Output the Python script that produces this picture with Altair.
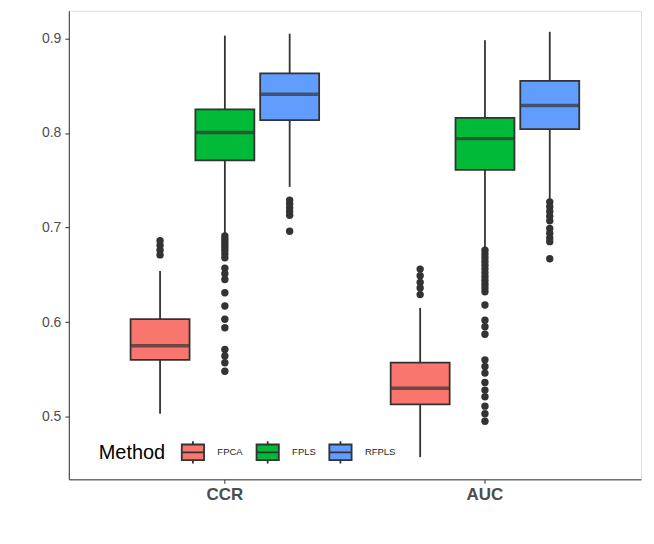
import altair as alt
import pandas as pd

groups = ["CCR", "AUC"]
methods = ["FPCA", "FPLS", "RFPLS"]
colors = ["#F8766D", "#00BA38", "#619CFF"]

# box summaries, order: CCR FPCA/FPLS/RFPLS, AUC FPCA/FPLS/RFPLS
box_group = ["CCR", "CCR", "CCR", "AUC", "AUC", "AUC"]
box_method = ["FPCA", "FPLS", "RFPLS", "FPCA", "FPLS", "RFPLS"]
whisker_low = [0.503, 0.694, 0.743, 0.457, 0.677, 0.729]
q1 = [0.560, 0.771, 0.8135, 0.513, 0.761, 0.804]
median = [0.575, 0.8005, 0.841, 0.530, 0.794, 0.829]
q3 = [0.603, 0.825, 0.863, 0.557, 0.816, 0.855]
whisker_high = [0.654, 0.903, 0.905, 0.615, 0.898, 0.907]

# outliers
out_ccr_fpca = [0.686, 0.681, 0.676, 0.671]
out_ccr_fpls = [0.691, 0.688, 0.685, 0.682, 0.679, 0.676, 0.672, 0.668,
                0.657, 0.651, 0.645, 0.631, 0.617, 0.603, 0.594,
                0.571, 0.564, 0.557, 0.548]
out_ccr_rfpls = [0.729, 0.725, 0.721, 0.717, 0.713, 0.696]
out_auc_fpca = [0.656, 0.649, 0.642, 0.636, 0.629]
out_auc_fpls = [0.676, 0.672, 0.668, 0.664, 0.660, 0.656, 0.652, 0.648,
                0.644, 0.640, 0.636, 0.632, 0.618, 0.602, 0.595, 0.587,
                0.560, 0.553, 0.546, 0.536, 0.528, 0.521, 0.511, 0.503, 0.495]
out_auc_rfpls = [0.727, 0.722, 0.717, 0.712, 0.707, 0.699, 0.694, 0.689,
                 0.685, 0.667]

boxes = pd.DataFrame({
    "group": box_group, "method": box_method,
    "lo": whisker_low, "q1": q1, "med": median, "q3": q3, "hi": whisker_high,
})

out_lists = [out_ccr_fpca, out_ccr_fpls, out_ccr_rfpls,
             out_auc_fpca, out_auc_fpls, out_auc_rfpls]
rows = []
for g, m, vals in zip(box_group, box_method, out_lists):
    for v in vals:
        rows.append({"group": g, "method": m, "value": v})
outliers = pd.DataFrame(rows)

x_enc = alt.X("group:N", sort=groups, title=None,
              scale=alt.Scale(paddingInner=0, paddingOuter=0.1),
              axis=alt.Axis(labelAngle=0, labelFontSize=17, labelFontWeight="bold",
                            labelColor="#4D4D4D", tickSize=4, labelPadding=3,
                            domainColor="#333333", tickColor="#333333"))
xoff = alt.XOffset("method:N", sort=methods,
                   scale=alt.Scale(paddingInner=0.09, paddingOuter=0.552))
y_scale = alt.Scale(domain=[0.4336, 0.9292], nice=False, zero=False)
y_axis = alt.Axis(values=[0.5, 0.6, 0.7, 0.8, 0.9], format=".1f", grid=False,
                  labelFontSize=14, labelColor="#4D4D4D", tickSize=4,
                  labelPadding=4, domainColor="#333333", tickColor="#333333")

base = alt.Chart(boxes).encode(x=x_enc, xOffset=xoff)

whiskers = base.mark_rule(color="#333333", strokeWidth=1.8).encode(
    y=alt.Y("lo:Q", scale=y_scale, axis=y_axis, title=None),
    y2="hi:Q",
)

bars = base.mark_bar(stroke="#333333", strokeWidth=1.8).encode(
    y=alt.Y("q1:Q", scale=y_scale),
    y2="q3:Q",
    fill=alt.Fill("method:N", sort=methods,
                  scale=alt.Scale(domain=methods, range=colors),
                  legend=alt.Legend(
                      title="Method", orient="none", legendX=30, legendY=430,
                      direction="horizontal", titleOrient="left",
                      titleFontSize=20, titleFontWeight="normal", titleColor="black",
                      titlePadding=15, labelFontSize=9.5, labelColor="#222222",
                      labelOffset=12, columnPadding=9,
                      symbolType="M-1,-0.7H1V0.7H-1Z M-1,0H1 M0,-0.7V-1 M0,0.7V1",
                      symbolSize=500, symbolStrokeColor="#333333",
                      symbolStrokeWidth=1.8)),
)

medians = base.mark_tick(color="#333333", size=58, thickness=3.5).encode(
    y=alt.Y("med:Q", scale=y_scale),
)

points = alt.Chart(outliers).mark_circle(size=55, color="#333333", opacity=1).encode(
    x=x_enc, xOffset=xoff,
    y=alt.Y("value:Q", scale=y_scale),
)

chart = alt.layer(whiskers, bars, medians, points).properties(
    width=574, height=470,
    autosize=alt.AutoSizeParams(type="none"),
    padding={"left": 61, "top": 2, "right": 5, "bottom": 50},
    background="white",
).configure_view(
    stroke="#333333", strokeWidth=1
).configure(
    font="Liberation Sans"
)

chart.save("out.html", embed_options={"renderer": "svg", "actions": False})
